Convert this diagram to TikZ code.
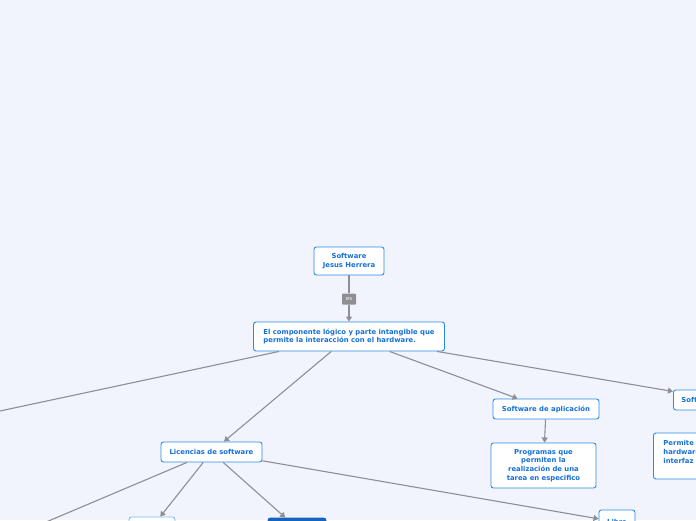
\documentclass[tikz,border=0pt]{standalone}
\usepackage{fontspec}
\newfontfamily\mapfont{DejaVu Sans}
\usepackage{xcolor}
\usetikzlibrary{arrows.meta}

\definecolor{bgmap}{HTML}{F1F4FD}
\definecolor{topicblue}{HTML}{2C8BE8}
\definecolor{textblue}{HTML}{1570D8}
\definecolor{linkgray}{HTML}{8E8E94}
\definecolor{darktopic}{HTML}{1565C0}
\definecolor{paletopic}{HTML}{7DBBF2}

\begin{document}
\begin{tikzpicture}[x=1pt, y=-1pt, >={Triangle[length=5pt,width=6pt]},
    topic/.style={draw=topicblue, line width=0.9pt, fill=white, rounded corners=2.5pt,
        text=textblue, font=\mapfont\bfseries\fontsize{6.85}{8.8}\selectfont,
        align=center, inner sep=0pt},
    link/.style={draw=linkgray, line width=1.1pt, ->},
    tag/.style={fill=linkgray, rounded corners=1pt, text=white, inner sep=0pt,
        minimum width=14pt, minimum height=11pt, font=\mapfont\fontsize{5.5}{6}\selectfont}]
    % Page
    \fill [bgmap] (0,0) rectangle (696,520);
    \useasboundingbox (0,0) rectangle (696,520);

    % Topics
    \node [topic, minimum width=70pt, minimum height=28pt] (root) at (349,261) {Software\\Jesus Herrera};
    \node [tag] (es) at (349,299) {es};
    \node [topic, minimum width=191pt, minimum height=29pt, align=left] (def) at (349,336.5)
        {El componente lógico y parte intangible que\\permite la interacción con el hardware.};
    \node [topic, minimum width=106pt, minimum height=20pt] (aplic) at (546,409) {Software de aplicación};
    \node [topic, minimum width=105pt, minimum height=45pt] (prog) at (543.5,465.5)
        {Programas que\\permiten la\\realización de una\\tarea en especifico};
    \node [topic, anchor=west, text width=84pt, minimum height=20pt, align=left, inner xsep=8pt] (sist) at (673,400) {Software};
    \node [topic, anchor=west, text width=84pt, minimum height=46pt, align=left, inner xsep=10pt] (perm) at (653,456)
        {Permite\\hardware\\interfaz\\\mbox{}};
    \node [topic, minimum width=101pt, minimum height=20pt] (lic) at (211.5,452) {Licencias de software};
    \node [topic, draw=paletopic, minimum width=46pt, minimum height=20pt] (lica) at (152,527) {};
    \node [topic, draw=darktopic, fill=darktopic, minimum width=58pt, minimum height=20pt] (licb) at (297,528) {};
    \node [topic, minimum width=36pt, minimum height=24pt] (libre) at (617,522) {Libre};
    \coordinate (offleft) at (-40,419.5);
    \coordinate (offlic) at (-20,550);

    % Links
    \draw [draw=linkgray, line width=1.1pt] (root) -- (es);
    \draw [link] (es) -- (def);
    \draw [link] (def) -- (offleft);
    \draw [link] (def) -- (lic);
    \draw [link] (def) -- (aplic);
    \draw [link] (def) -- (sist);
    \draw [link] (aplic) -- (prog);
    \draw [link] (lic) -- (offlic);
    \draw [link] (lic) -- (lica);
    \draw [link] (lic) -- (licb);
    \draw [link] (lic) -- (libre);
\end{tikzpicture}
\end{document}
